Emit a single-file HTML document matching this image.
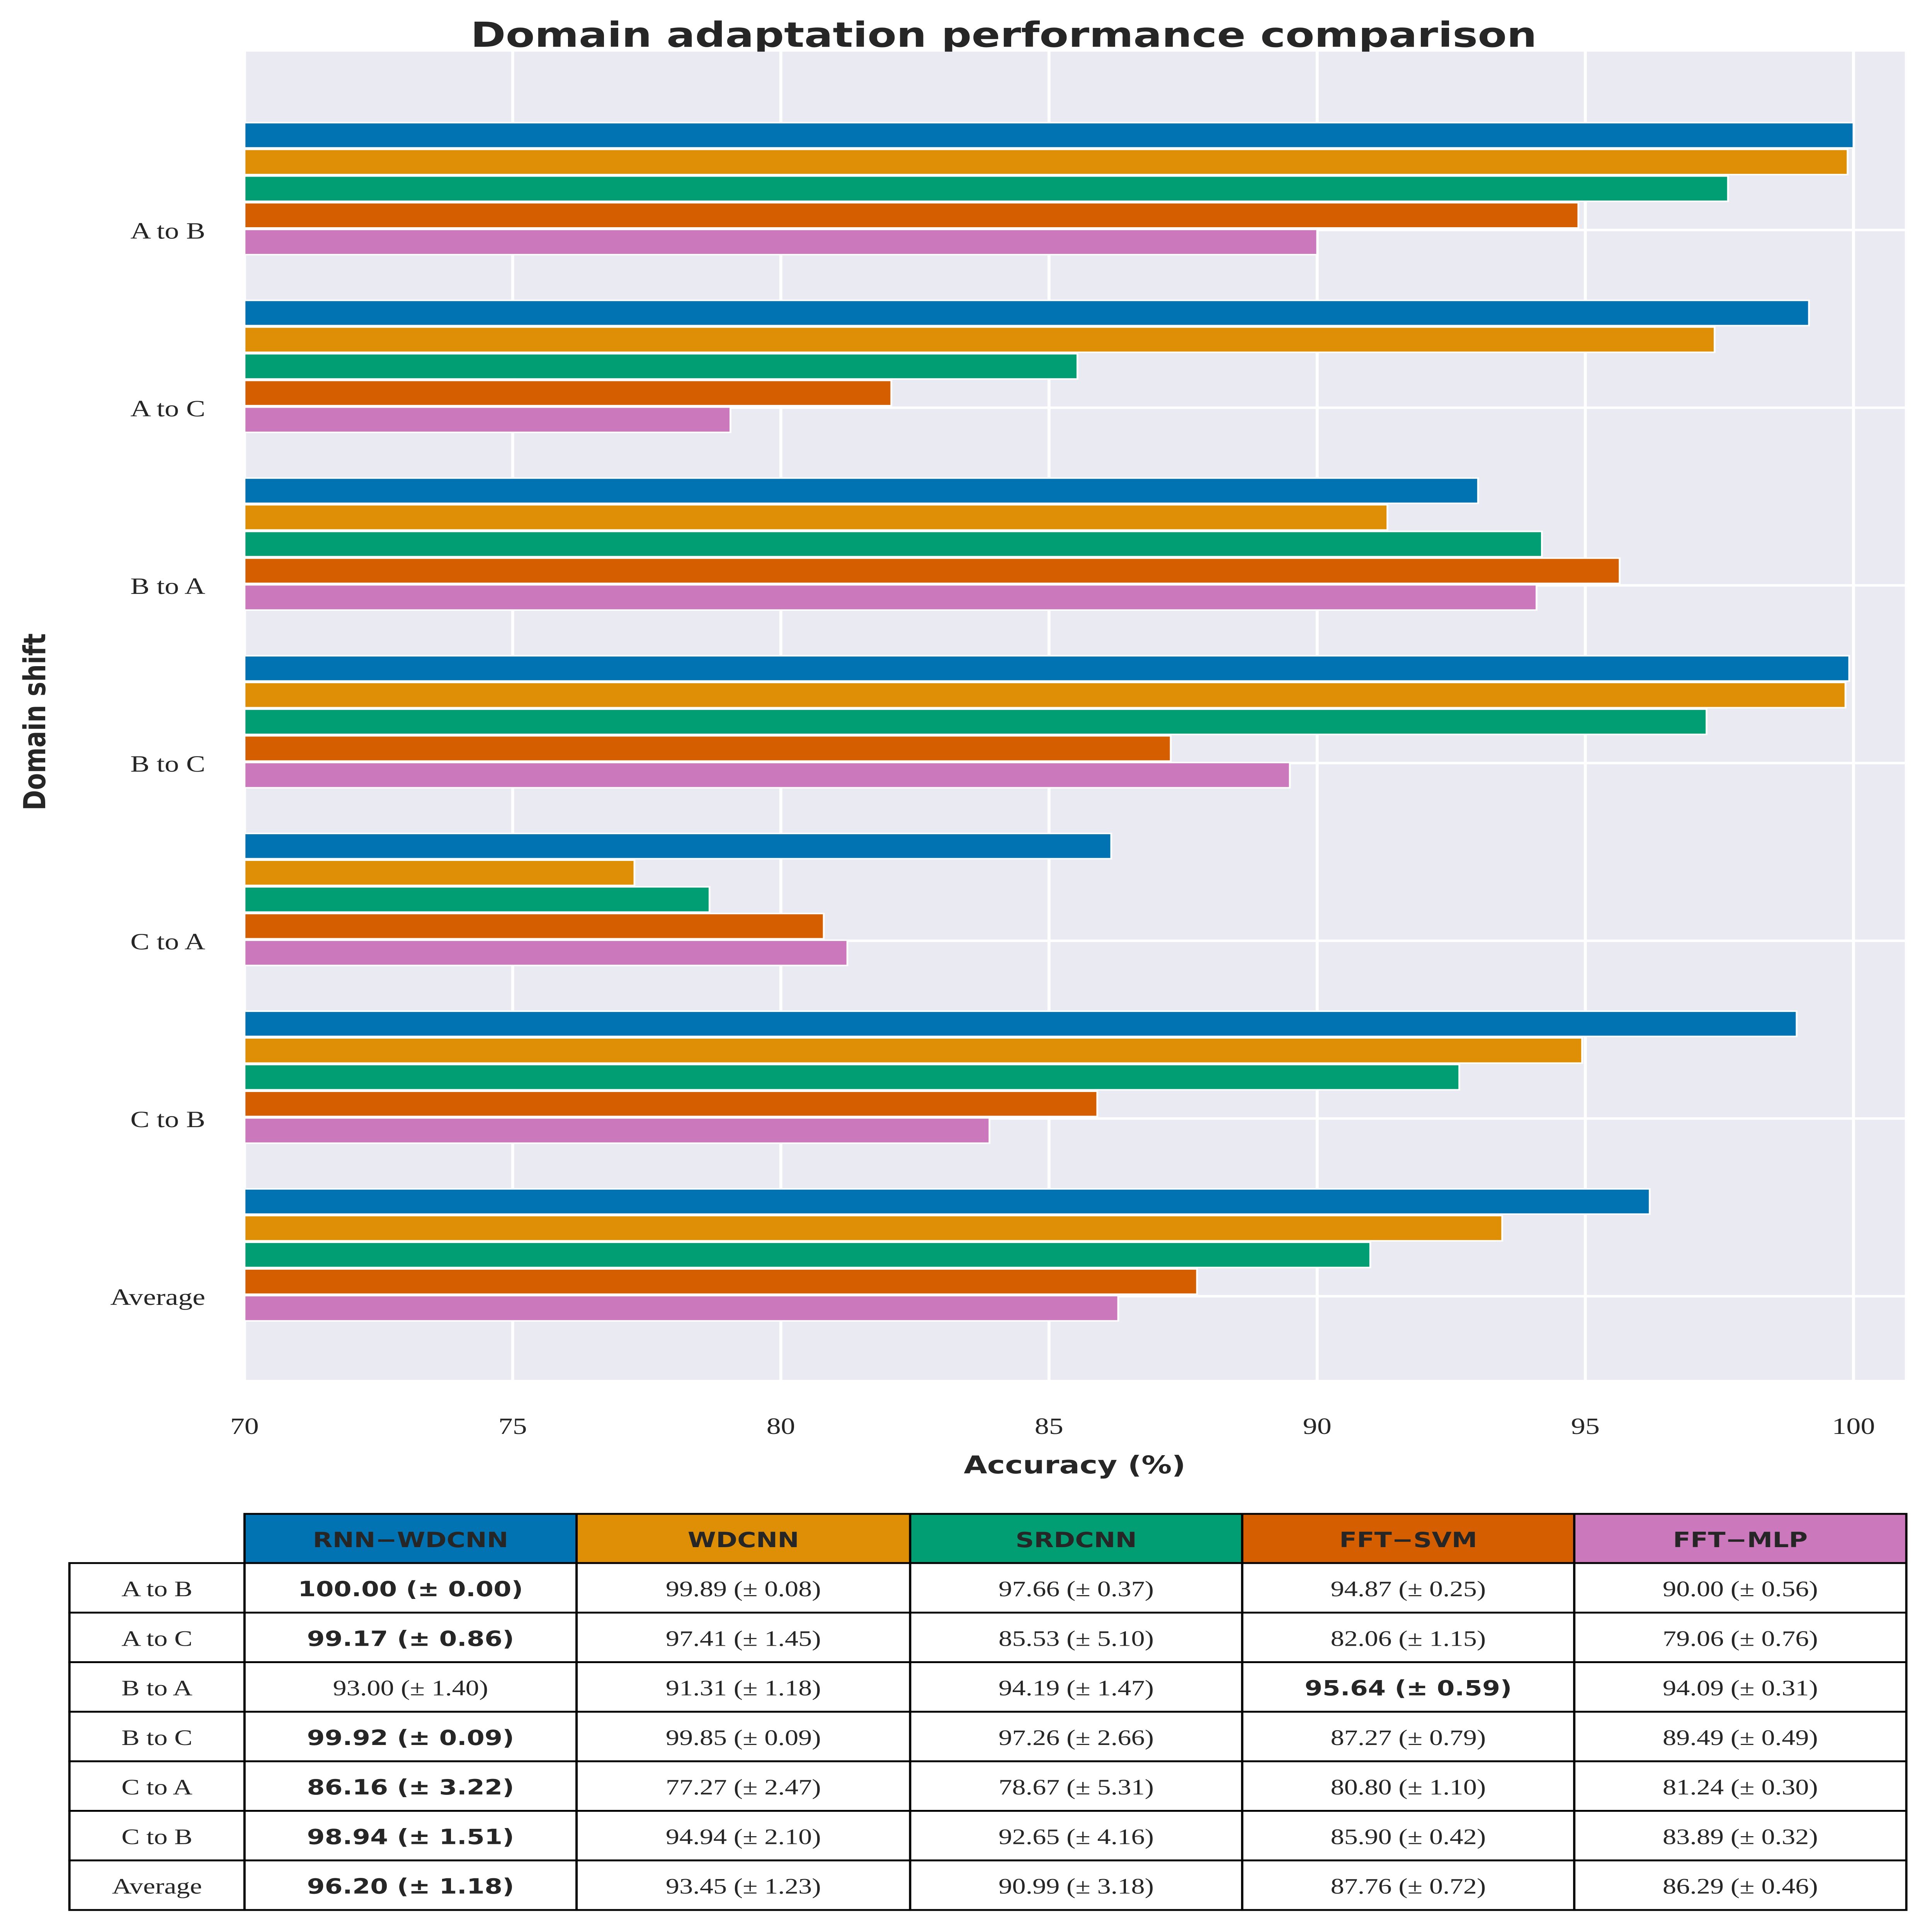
<!DOCTYPE html>
<html><head><meta charset="utf-8">
<style>
html,body{margin:0;padding:0;background:#fff;width:100%;height:100%;overflow:hidden}
svg{display:block;width:100vw;height:100vh;position:fixed;left:0;top:0}
</style></head><body>
<svg id="chart" viewBox="0 0 1280 1571" preserveAspectRatio="none" xmlns="http://www.w3.org/2000/svg">
<rect width="1280" height="1571" fill="#ffffff"/>
<text x="665" y="38" text-anchor="middle" font-family="DejaVu Sans, sans-serif" font-weight="bold" font-size="28" fill="#262626">Domain adaptation performance comparison</text>
<rect x="162" y="42" width="1100" height="1080" fill="#eaeaf2"/>
<g id="grid"></g>
<g id="bars"></g>
<g id="yticks"></g>
<g id="xticks"></g>
<text x="712" y="1198" text-anchor="middle" font-family="DejaVu Sans, sans-serif" font-weight="bold" font-size="20" fill="#262626">Accuracy (%)</text>
<text transform="translate(30,587) rotate(-90)" text-anchor="middle" font-family="DejaVu Sans, sans-serif" font-weight="bold" font-size="20" fill="#262626">Domain shift</text>
<g id="table"></g>
</svg>
<script>
const categories = ["A to B","A to C","B to A","B to C","C to A","C to B","Average"];
const seriesNames = ["RNN\u2212WDCNN","WDCNN","SRDCNN","FFT\u2212SVM","FFT\u2212MLP"];
const rnnWdcnn = [100.00,99.17,93.00,99.92,86.16,98.94,96.20];
const wdcnn = [99.89,97.41,91.31,99.85,77.27,94.94,93.45];
const srdcnn = [97.66,85.53,94.19,97.26,78.67,92.65,90.99];
const fftSvm = [94.87,82.06,95.64,87.27,80.80,85.90,87.76];
const fftMlp = [90.00,79.06,94.09,89.49,81.24,83.89,86.29];
const rnnStd = [0.00,0.86,1.40,0.09,3.22,1.51,1.18];
const wdcnnStd = [0.08,1.45,1.18,0.09,2.47,2.10,1.23];
const srdcnnStd = [0.37,5.10,1.47,2.66,5.31,4.16,3.18];
const svmStd = [0.25,1.15,0.59,0.79,1.10,0.42,0.72];
const mlpStd = [0.56,0.76,0.31,0.49,0.30,0.32,0.46];
const xTicks = [70,75,80,85,90,95,100];
const colors = ["#0173b2","#de8f05","#029e73","#d55e00","#cc78bc"];
const seriesKeys = ["rnn-wdcnn","wdcnn","srdcnn","fft-svm","fft-mlp"];

const NS="http://www.w3.org/2000/svg";
const X0=162, PX=35.533, XMIN=70;
const xs = v => X0 + (v - XMIN)*PX;
const yCat = i => 187 + i*144.5;
const BAR_H=20.5, STEP=21.7;
function mk(tag, attrs, parent, text){const e=document.createElementNS(NS,tag);for(const k in attrs)e.setAttribute(k,attrs[k]);if(text!==undefined)e.textContent=text;parent.appendChild(e);return e;}

const grid=document.getElementById('grid');
xTicks.forEach(t=>{const l=mk('line',{x1:xs(t),x2:xs(t),y1:42,y2:1122,stroke:'#fff','stroke-width':2},grid);

});
categories.forEach((c,i)=>{const l=mk('line',{x1:162,x2:1262,y1:yCat(i),y2:yCat(i),stroke:'#fff','stroke-width':2},grid);

});

const allSeries=[rnnWdcnn,wdcnn,srdcnn,fftSvm,fftMlp];
const bars=document.getElementById('bars');
categories.forEach((c,i)=>{
  allSeries.forEach((s,j)=>{
    const yc = yCat(i) - 77 + j*STEP;
    const r=mk('rect',{x:X0,y:yc-BAR_H/2,width:xs(s[i])-X0,height:BAR_H,fill:colors[j],stroke:'#fff','stroke-width':1.2},bars);
    
    
  });
});
const yt=document.getElementById('yticks');
categories.forEach((c,i)=>{const t=mk('text',{x:136,y:yCat(i)+7,'text-anchor':'end','font-family':'Liberation Serif, serif','font-size':19,fill:'#262626'},yt,c);

});
const xt=document.getElementById('xticks');
xTicks.forEach(v=>{const t=mk('text',{x:xs(v),y:1166,'text-anchor':'middle','font-family':'Liberation Serif, serif','font-size':19,fill:'#262626'},xt,String(v));

});

const tb=document.getElementById('table');
const colX=[46,162,382,603,823,1043,1263];
const rowY0=1231, HDR=40, RH=40.3;
const stds=[rnnStd,wdcnnStd,srdcnnStd,svmStd,mlpStd];
for(let j=0;j<5;j++){
  const r=mk('rect',{x:colX[j+1],y:rowY0,width:colX[j+2]-colX[j+1],height:HDR,fill:colors[j],stroke:'#000','stroke-width':1.5},tb);
  
  
  const t=mk('text',{x:(colX[j+1]+colX[j+2])/2,y:rowY0+27,'text-anchor':'middle','font-family':'DejaVu Sans, sans-serif','font-weight':'bold','font-size':17,fill:'#262626'},tb,seriesNames[j]);
  
  
}
categories.forEach((c,i)=>{
  const y=rowY0+HDR+i*RH;
  const vals=allSeries.map(s=>s[i]);
  const best=vals.indexOf(Math.max(...vals));
  const rl=mk('rect',{x:colX[0],y:y,width:colX[1]-colX[0],height:RH,fill:'#fff',stroke:'#000','stroke-width':1.5},tb);
  
  
  const tl=mk('text',{x:(colX[0]+colX[1])/2,y:y+27,'text-anchor':'middle','font-family':'Liberation Serif, serif','font-size':18,fill:'#262626'},tb,c);
  
  
  for(let j=0;j<5;j++){
    const r=mk('rect',{x:colX[j+1],y:y,width:colX[j+2]-colX[j+1],height:RH,fill:'#fff',stroke:'#000','stroke-width':1.5},tb);
    
    
    const isB=j===best;
    const t=mk('text',{x:(colX[j+1]+colX[j+2])/2,y:y+27,'text-anchor':'middle','font-family':isB?'DejaVu Sans, sans-serif':'Liberation Serif, serif','font-weight':isB?'bold':'normal','font-size':isB?17:18,fill:'#262626'},tb,vals[j].toFixed(2)+' (\u00b1 '+stds[j][i].toFixed(2)+')');
    
    
  }
});
</script>
</body></html>
